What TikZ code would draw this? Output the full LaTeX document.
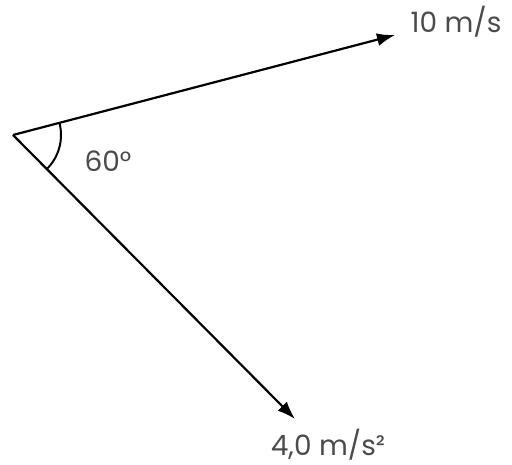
\documentclass[tikz,border=0pt]{standalone}
\usepackage{fontspec}
\setmainfont{Poppins}
\usetikzlibrary{arrows.meta}
\definecolor{txt}{RGB}{75,75,75}
\begin{document}
\begin{tikzpicture}[x=1pt,y=-1pt,
  vec/.style={line width=2.2pt,-{Latex[length=18pt,width=13pt]}},
  lbl/.style={text=txt,font=\fontsize{28}{32}\selectfont,inner sep=0pt}]
\useasboundingbox (0,0) rectangle (512,465);
\coordinate (O) at (13,135);
\coordinate (A) at (395,35);
\coordinate (B) at (295,419);
\draw[vec] (O) -- (A);
\draw[vec] (O) -- (B);
\draw[line width=2pt] ([shift={(-14.7:48)}]O) arc[start angle=-14.7, end angle=45.3, radius=48];
\node[lbl] (v) at (456,22) {10 m/s};
\node[lbl] (a) at (328,445) {4,0 m/s²};
\node[lbl] (ang) at (108,161) {60°};
\end{tikzpicture}
\end{document}
